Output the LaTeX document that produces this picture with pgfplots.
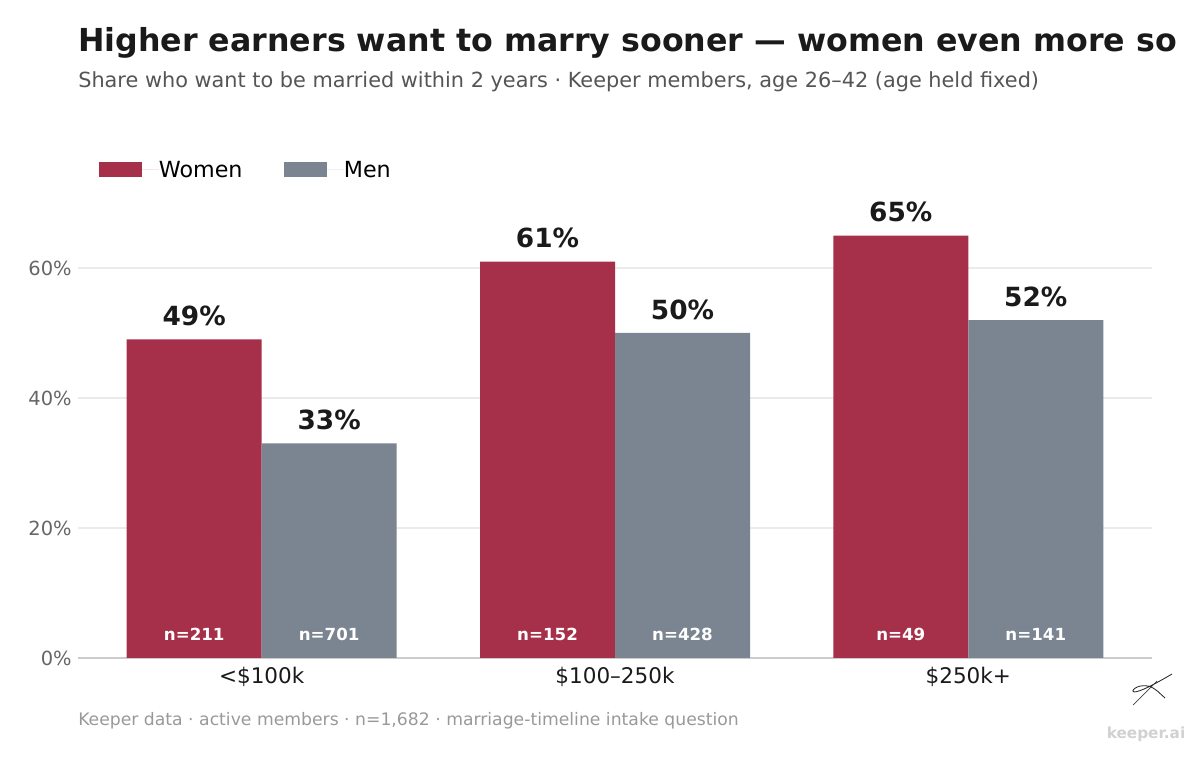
\documentclass[border=0pt]{standalone}
\usepackage{pgfplots}
\pgfplotsset{compat=1.18}
\usepackage{fontspec}
\setmainfont{DejaVu Sans}
\definecolor{wred}{HTML}{A6304A}
\definecolor{mgray}{HTML}{7A8591}
\definecolor{titlec}{HTML}{1A1A1A}
\definecolor{subc}{HTML}{555555}
\definecolor{tickc}{HTML}{666666}
\definecolor{footc}{HTML}{999999}
\definecolor{gridc}{HTML}{EBEBEB}
\definecolor{basec}{HTML}{CCCCCC}
\begin{document}
\begin{tikzpicture}[x=0.72pt,y=0.72pt]
\path (0,0) rectangle (1200,757);
\node[anchor=base west,inner sep=0,text=titlec,font=\fontsize{22.8}{27}\selectfont\bfseries] at (78,757-52) {Higher earners want to marry sooner — women even more so};
\node[anchor=base west,inner sep=0,text=subc,font=\fontsize{15}{18}\selectfont] at (78,757-88) {Share who want to be married within 2 years · Keeper members, age 26–42 (age held fixed)};
\node[anchor=base west,inner sep=0,text=footc,font=\fontsize{12.4}{15}\selectfont] at (78,757-726) {Keeper data · active members · n=1,682 · marriage-timeline intake question};
\node[anchor=base,inner sep=0,text=black!18,font=\fontsize{11}{13}\selectfont\bfseries] at (1146,757-739) {keeper.ai};
\draw[black!75,line width=0.5pt] (1133,757-705) -- (1157,757-681);
\draw[black!85,line width=0.6pt] (1172,757-674) .. controls (1155,757-684) and (1140,757-692) .. (1134,757-692) .. controls (1130,757-692) and (1136,757-684) .. (1148,757-686) .. controls (1156,757-688) and (1160,757-694) .. (1165,757-698);
\begin{axis}[
  at={(56.16pt,71.28pt)}, anchor=south west,
  scale only axis, width=773.28pt, height=336.96pt,
  xmin=-0.52, xmax=2.52, ymin=0, ymax=72,
  /pgf/number format/assume math mode=true,
  xtick={0,1,2},
  xticklabels={<\$100k,\$100–250k,\$250k+},
  ytick={0,20,40,60},
  yticklabels={0\%,20\%,40\%,60\%},
  major tick length=0pt,
  ymajorgrids, grid style={gridc,line width=0.8pt},
  axis x line*=bottom, axis y line*=left,
  x axis line style={basec,line width=0.8pt,-},
  y axis line style={draw=none},
  xticklabel style={font=\fontsize{15.5}{18}\selectfont,text=titlec,yshift=-3pt},
  yticklabel style={font=\fontsize{14}{17}\selectfont,text=tickc,xshift=-1pt},
  clip=false,
  legend style={at={(0.0155,1.043)},anchor=west,draw=none,fill=none,legend columns=2,
    font=\fontsize{16}{19}\selectfont,
    /tikz/every even column/.append style={column sep=30pt},
    nodes={inner sep=0pt, text depth=0pt}},
  legend cell align=left,
]
\addplot[ybar,bar width=97.2pt,bar shift=-48.6pt,fill=wred,draw=none,
  nodes near coords={\pgfmathprintnumber{\pgfplotspointmeta}\%},
  every node near coord/.style={anchor=base,xshift=-48.6pt,yshift=10pt,inner sep=0pt,text=titlec,font=\fontsize{19}{22}\selectfont\bfseries},
  legend image code/.code={\fill[wred] (0pt,-5.4pt) rectangle (31pt,5.4pt); \path (31pt,0) -- (43pt,0);}]
  coordinates {(0,49) (1,61) (2,65)};
\addlegendentry{Women}
\addplot[ybar,bar width=97.2pt,bar shift=48.6pt,fill=mgray,draw=none,
  nodes near coords={\pgfmathprintnumber{\pgfplotspointmeta}\%},
  every node near coord/.style={anchor=base,xshift=48.6pt,yshift=10pt,inner sep=0pt,text=titlec,font=\fontsize{19}{22}\selectfont\bfseries},
  legend image code/.code={\fill[mgray] (0pt,-5.4pt) rectangle (31pt,5.4pt); \path (31pt,0) -- (43pt,0);}]
  coordinates {(0,33) (1,50) (2,52)};
\addlegendentry{Men}
\addplot[draw=none,mark=none,point meta=explicit symbolic,forget plot,
  nodes near coords,
  every node near coord/.style={anchor=center,inner sep=0pt,text=white,font=\fontsize{12}{14}\selectfont\bfseries}]
  coordinates {(-0.191,3.7)[n=211] (0.809,3.7)[n=152] (1.809,3.7)[n=49]};
\addplot[draw=none,mark=none,point meta=explicit symbolic,forget plot,
  nodes near coords,
  every node near coord/.style={anchor=center,inner sep=0pt,text=white,font=\fontsize{12}{14}\selectfont\bfseries}]
  coordinates {(0.191,3.7)[n=701] (1.191,3.7)[n=428] (2.191,3.7)[n=141]};
\end{axis}
\end{tikzpicture}
\end{document}
